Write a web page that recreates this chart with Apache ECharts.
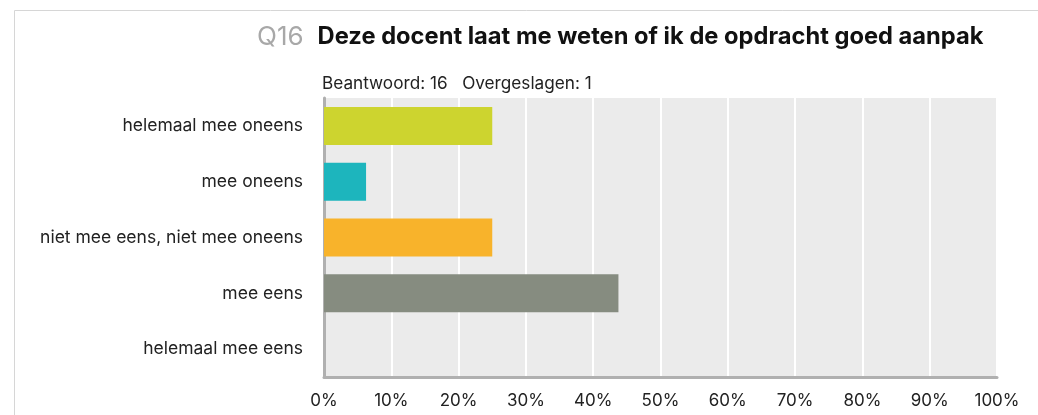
<!DOCTYPE html>
<html><head><meta charset="utf-8">
<script src="https://cdn.jsdelivr.net/npm/echarts@6/dist/echarts.min.js"></script>
<style>html,body{margin:0;padding:0;background:#fff}#c{width:1038px;height:415px}</style>
</head><body><div id="c"></div>
<script>
const categories = ['helemaal mee oneens','mee oneens','niet mee eens, niet mee oneens','mee eens','helemaal mee eens'];
const values = [25, 6.25, 25, 43.75, 0];
const colors = ['#cdd42f','#1db5bd','#f8b32b','#868c80','#a7a9ab'];
const xTicks = [0,10,20,30,40,50,60,70,80,90,100];
const questionNo = 'Q16';
const questionText = 'Deze docent laat me weten of ik de opdracht goed aanpak';
const answered = 16, skipped = 1;

const FONT = 'Inter';
const chart = echarts.init(document.getElementById('c'), null, {renderer:'canvas'});
chart.setOption({
  animation:false,
  textStyle:{fontFamily:FONT},
  graphic:[{type:'polyline', silent:true, shape:{points:[[14.5,415],[14.5,10.5],[1038,10.5]]}, style:{stroke:'#d6d6d6', lineWidth:1, fill:null}}],
  title:[{
    left:252, top:19,
    text:'{q|'+questionNo+'}{t|'+questionText+'}',
    textStyle:{rich:{
      q:{fontFamily:FONT,fontSize:26,color:'#a8a8a8',fontWeight:'normal',padding:[0,14,0,0]},
      t:{fontFamily:FONT,fontSize:23.7,color:'#111',fontWeight:'bold'}
    }}
  },{
    left:317, top:70,
    text:'Beantwoord: '+answered+'   Overgeslagen: '+skipped,
    textStyle:{fontFamily:FONT,fontSize:17.2,color:'#222',fontWeight:'normal'}
  }],
  grid:{left:324, right:41, top:98, bottom:38, show:true, backgroundColor:'#ebebeb', borderWidth:0, containLabel:false},
  xAxis:{type:'value', min:0, max:100, interval:10,
    axisLine:{show:true, onZero:false, lineStyle:{color:'#b0b0b0', width:3}},
    axisTick:{show:false},
    splitLine:{show:true, lineStyle:{color:'#ffffff', width:2}},
    axisLabel:{formatter:v=>v+'%', color:'#222', fontSize:17, margin:15, fontFamily:FONT}
  },
  yAxis:{type:'category', data:categories, inverse:true,
    axisLine:{show:true, lineStyle:{color:'#b0b0b0', width:3}},
    axisTick:{show:false},
    axisLabel:{color:'#222', fontSize:17.5, margin:21, fontFamily:FONT, padding:[0,0,4,0]}
  },
  series:[{type:'bar', data:values.map((v,i)=>({value:v, itemStyle:{color:colors[i]}})), barWidth:38}]
});
</script></body></html>
